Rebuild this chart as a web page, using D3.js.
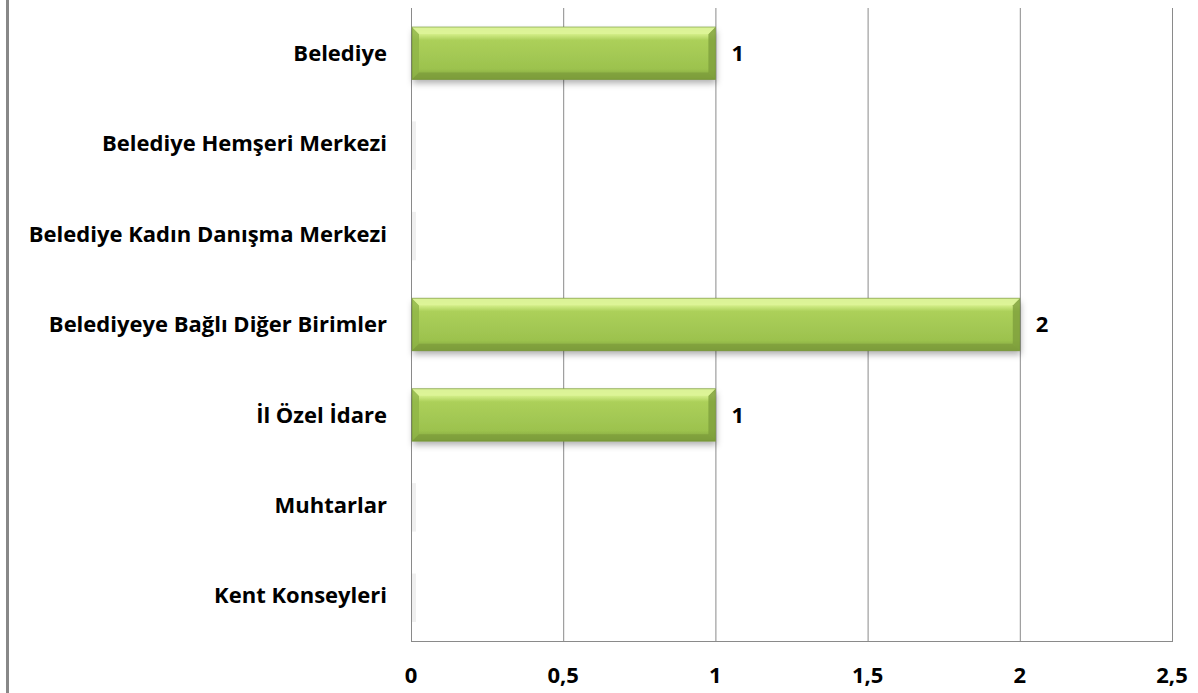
<!DOCTYPE html>
<html>
<head>
<meta charset="utf-8">
<script src="https://cdn.jsdelivr.net/npm/d3@7"></script>
<style>
  body { margin: 0; background: #fff; }
  text { font-family: "Open Sans", "Noto Sans", sans-serif; font-weight: bold; fill: #000; }
</style>
</head>
<body>
<div id="chart"></div>
<script>
// categories, top to bottom
var categories = ["Belediye", "Belediye Hemşeri Merkezi", "Belediye Kadın Danışma Merkezi",
                  "Belediyeye Bağlı Diğer Birimler", "İl Özel İdare", "Muhtarlar", "Kent Konseyleri"];
var values = [1, 0, 0, 2, 1, 0, 0];
var tickValues = [0, 0.5, 1, 1.5, 2, 2.5];
var tickLabels = ["0", "0,5", "1", "1,5", "2", "2,5"];

var width = 1198, height = 693;
var margin = { top: 8, right: 26, bottom: 52, left: 411 };

var svg = d3.select("#chart").append("svg")
    .attr("width", width)
    .attr("height", height);

var defs = svg.append("defs");
var grad = defs.append("linearGradient").attr("id", "barGrad")
    .attr("x1", 0).attr("y1", 0).attr("x2", 0).attr("y2", 1);
grad.append("stop").attr("offset", "0%").attr("stop-color", "#c9e38a");
grad.append("stop").attr("offset", "12%").attr("stop-color", "#d8f28e");
grad.append("stop").attr("offset", "25%").attr("stop-color", "#acd05a");
grad.append("stop").attr("offset", "80%").attr("stop-color", "#9cc24e");
grad.append("stop").attr("offset", "100%").attr("stop-color", "#7c9e3b");

var shadow = defs.append("filter").attr("id", "shadow")
    .attr("x", "-5%").attr("y", "-20%").attr("width", "110%").attr("height", "160%");
shadow.append("feDropShadow").attr("dx", 1).attr("dy", 4).attr("stdDeviation", 3)
    .attr("flood-color", "#000").attr("flood-opacity", 0.3);

// left page border
svg.append("rect").attr("x", 6).attr("y", 0).attr("width", 3).attr("height", height).attr("fill", "#888");

var x = d3.scaleLinear().domain([0, 2.5]).range([margin.left, width - margin.right]);
var y = d3.scaleBand().domain(categories).range([margin.top, height - margin.bottom]).paddingInner(0.42).paddingOuter(0.21);

// vertical grid lines
svg.append("g").selectAll("line")
    .data(tickValues)
    .enter().append("line")
    .attr("x1", function (d) { return x(d) + 0.5; })
    .attr("x2", function (d) { return x(d) + 0.5; })
    .attr("y1", margin.top)
    .attr("y2", height - margin.bottom)
    .attr("stroke", "#8a8a8a")
    .attr("stroke-width", 1);

// bottom axis line
svg.append("line")
    .attr("x1", x(0)).attr("x2", x(2.5) + 1)
    .attr("y1", height - margin.bottom + 0.5).attr("y2", height - margin.bottom + 0.5)
    .attr("stroke", "#8a8a8a");

// x tick labels
svg.append("g").selectAll("text")
    .data(tickValues)
    .enter().append("text")
    .attr("x", function (d) { return x(d); })
    .attr("y", 683)
    .attr("text-anchor", "middle")
    .style("font-size", "22px")
    .text(function (d, i) { return tickLabels[i]; });

// category labels
svg.append("g").selectAll("text")
    .data(categories)
    .enter().append("text")
    .attr("x", margin.left - 24)
    .attr("y", function (d) { return y(d) + y.bandwidth() / 2; })
    .attr("dy", "0.35em")
    .attr("text-anchor", "end")
    .style("font-size", "22px")
    .text(function (d) { return d; });

// bars
var bars = svg.append("g").selectAll("g")
    .data(categories)
    .enter().append("g")
    .attr("transform", function (d) { return "translate(0," + y(d) + ")"; });

bars.each(function (d, i) {
    var g = d3.select(this);
    var w = x(values[i]) - x(0);
    var h = y.bandwidth();
    if (w <= 0) {
        // empty bar leaves a faint ghost
        g.append("rect").attr("x", x(0) + 1).attr("y", 4).attr("width", 4).attr("height", h - 4)
            .attr("fill", "#f0f0f0");
        return;
    }
    var x0 = x(0) + 1, x1 = x(values[i]);
    g.append("rect")
        .attr("x", x0).attr("y", 0).attr("width", x1 - x0).attr("height", h)
        .attr("fill", "url(#barGrad)")
        .attr("filter", "url(#shadow)");
    var b = 7;
    // bevel edges
    g.append("polygon")
        .attr("points", [[x0, 0], [x0 + b, b], [x0 + b, h - b], [x0, h]].join(" "))
        .attr("fill", "#8fb446").attr("opacity", 0.8);
    g.append("polygon")
        .attr("points", [[x1, 0], [x1 - b, b], [x1 - b, h - b], [x1, h]].join(" "))
        .attr("fill", "#7e9f3c").attr("opacity", 0.8);
    g.append("polygon")
        .attr("points", [[x0, h], [x0 + b, h - b], [x1 - b, h - b], [x1, h]].join(" "))
        .attr("fill", "#7c9b3a").attr("opacity", 0.7);
    g.append("polygon")
        .attr("points", [[x0, 0], [x0 + b, b], [x1 - b, b], [x1, 0]].join(" "))
        .attr("fill", "#dff59a").attr("opacity", 0.8);
    g.append("rect")
        .attr("x", x0).attr("y", 0).attr("width", x1 - x0).attr("height", h)
        .attr("fill", "none").attr("stroke", "#6f8f33").attr("stroke-width", 1).attr("opacity", 0.6);
    g.append("text")
        .attr("x", x1 + 16)
        .attr("y", h / 2)
        .attr("dy", "0.35em")
        .style("font-size", "22px")
        .text(values[i]);
});
</script>
</body>
</html>
